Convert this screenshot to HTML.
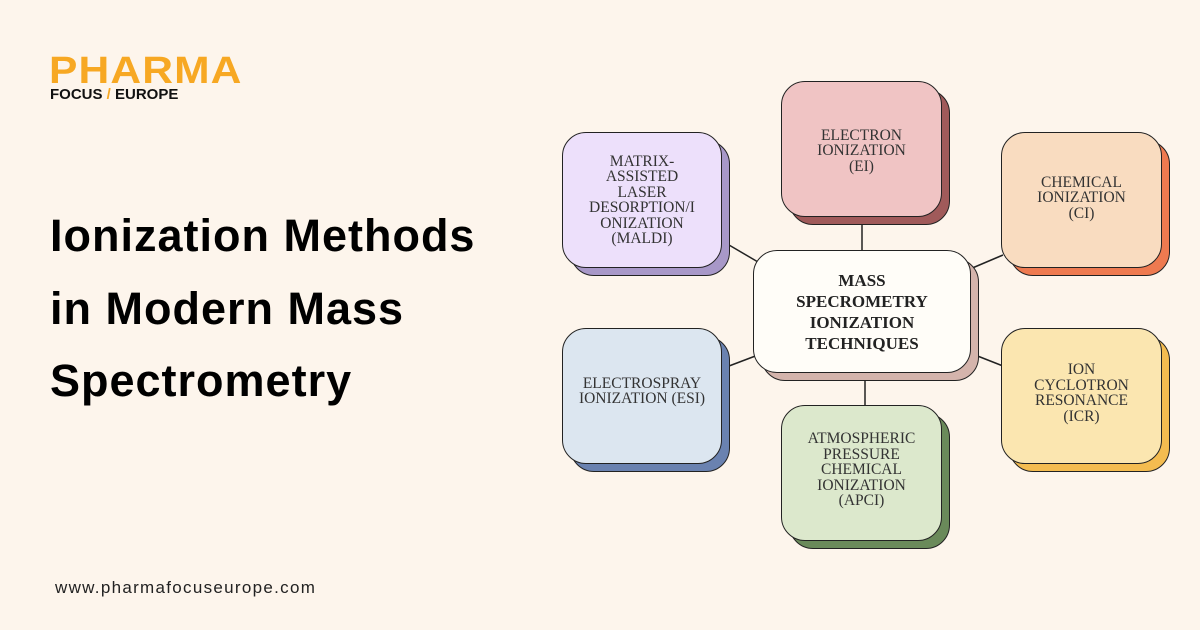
<!DOCTYPE html>
<html><head><meta charset="utf-8"><style>
body{margin:0;width:1200px;height:630px;background:#fdf5ec;position:relative;overflow:hidden;font-family:"Liberation Sans",sans-serif}
.t{position:absolute;left:50px;font-weight:bold;font-size:45px;color:#000;letter-spacing:1px}
.b{position:absolute;border:1.5px solid #222;border-radius:24px;box-sizing:border-box;display:flex;align-items:center;justify-content:center;text-align:center;font-family:"Liberation Serif",serif;font-size:15.5px;line-height:15.5px;color:#333}
.s{position:absolute;border:1.5px solid #222;border-radius:24px;box-sizing:border-box}
</style></head><body>
<div style="position:absolute;left:49px;top:52px;font-weight:900;font-size:38px;color:#f7a823;letter-spacing:1px;line-height:38px;transform:scaleX(1.12);transform-origin:left">PHARMA</div>
<div style="position:absolute;left:50px;top:86px;font-weight:bold;font-size:15px;color:#111">FOCUS <span style="color:#f7a823">/</span> EUROPE</div>
<div class="t" style="top:210px">Ionization Methods</div>
<div class="t" style="top:283px">in Modern Mass</div>
<div class="t" style="top:355px">Spectrometry</div>
<div style="position:absolute;left:55px;top:578px;font-size:17px;color:#222;letter-spacing:1.3px">www.pharmafocuseurope.com</div>
<svg style="position:absolute;left:0;top:0" width="1200" height="630"><g stroke="#222" stroke-width="1.5">
<line x1="729" y1="245" x2="758" y2="262"/><line x1="862" y1="222" x2="862" y2="251"/><line x1="1003" y1="255" x2="970" y2="269"/>
<line x1="729" y1="366" x2="758" y2="355"/><line x1="865" y1="378" x2="865" y2="406"/><line x1="1003" y1="366" x2="975" y2="355"/></g></svg>
<div class="s" style="left:570px;top:140px;width:160px;height:136px;background:#a898c8"></div>
<div class="b" style="left:562px;top:132px;width:160px;height:136px;background:#ede0fb">MATRIX-<br>ASSISTED<br>LASER<br>DESORPTION/I<br>ONIZATION<br>(MALDI)</div>
<div class="s" style="left:789px;top:89px;width:161px;height:136px;background:#a05a5a"></div>
<div class="b" style="left:781px;top:81px;width:161px;height:136px;background:#f0c4c4;padding-top:4px">ELECTRON<br>IONIZATION<br>(EI)</div>
<div class="s" style="left:1009px;top:140px;width:161px;height:136px;background:#ee7a50"></div>
<div class="b" style="left:1001px;top:132px;width:161px;height:136px;background:#f9dcc0;padding-bottom:4px">CHEMICAL<br>IONIZATION<br>(CI)</div>
<div class="s" style="left:761px;top:258px;width:218px;height:123px;background:#d4b4ac"></div>
<div class="b" style="left:753px;top:250px;width:218px;height:123px;background:#fffdf8;font-weight:bold;font-size:17px;line-height:21px;color:#222">MASS<br>SPECROMETRY<br>IONIZATION<br>TECHNIQUES</div>
<div class="s" style="left:570px;top:336px;width:160px;height:136px;background:#6a82b0"></div>
<div class="b" style="left:562px;top:328px;width:160px;height:136px;background:#dce6f0;padding-bottom:10px">ELECTROSPRAY<br>IONIZATION (ESI)</div>
<div class="s" style="left:789px;top:413px;width:161px;height:136px;background:#6a8a5a"></div>
<div class="b" style="left:781px;top:405px;width:161px;height:136px;background:#dce8cc;padding-bottom:6px">ATMOSPHERIC<br>PRESSURE<br>CHEMICAL<br>IONIZATION<br>(APCI)</div>
<div class="s" style="left:1009px;top:336px;width:161px;height:136px;background:#f4bc50"></div>
<div class="b" style="left:1001px;top:328px;width:161px;height:136px;background:#fbe6b0;padding-bottom:6px">ION<br>CYCLOTRON<br>RESONANCE<br>(ICR)</div>
</body></html>
